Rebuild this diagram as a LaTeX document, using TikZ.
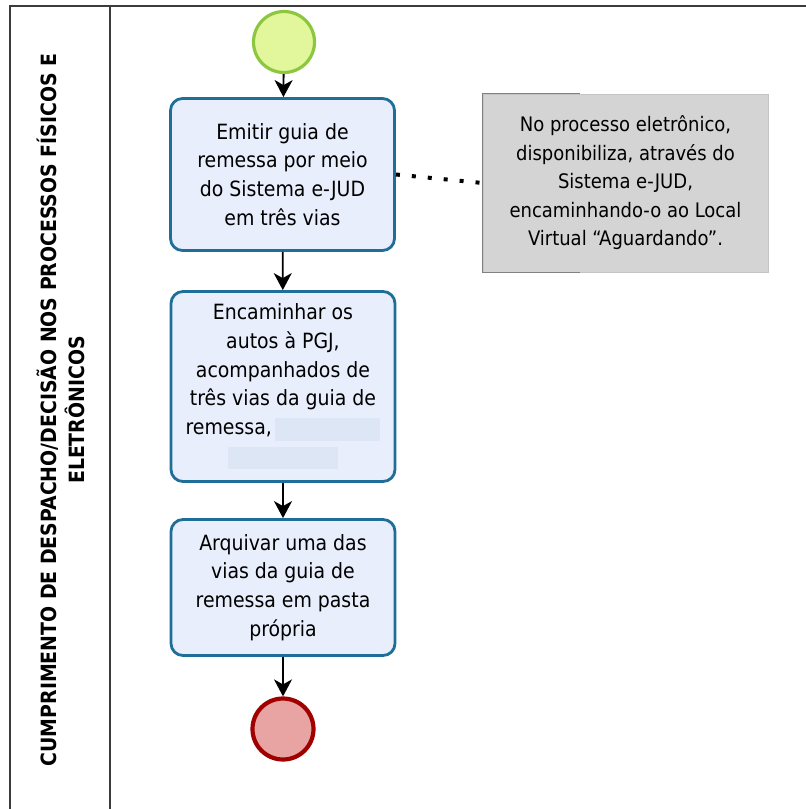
\documentclass[tikz,border=0pt]{standalone}
\usepackage{fontspec}
\setmainfont{DejaVu Sans Condensed}
\usetikzlibrary{arrows.meta}

\definecolor{frameline}{RGB}{60,60,60}
\definecolor{taskline}{RGB}{30,110,152}
\definecolor{taskfill}{RGB}{232,238,252}
\definecolor{startline}{RGB}{141,198,63}
\definecolor{startfill}{RGB}{226,247,156}
\definecolor{endline}{RGB}{160,0,0}
\definecolor{endfill}{RGB}{232,163,163}
\definecolor{notefill}{RGB}{212,212,212}
\definecolor{noteedge}{RGB}{196,196,196}
\definecolor{bracketline}{RGB}{128,128,128}
\definecolor{redact}{RGB}{220,230,244}

\begin{document}
\begin{tikzpicture}[x=1pt,y=-1pt,
  frame/.style={draw=frameline, line width=2.8pt},
  task/.style={draw=taskline, line width=2.8pt, fill=taskfill, rounded corners=12pt,
    minimum width=224pt, inner sep=0pt, align=center,
    font=\fontsize{21}{28.8}\selectfont},
  startev/.style={circle, draw=startline, line width=3.2pt, fill=startfill, minimum size=61pt, inner sep=0pt},
  endev/.style={circle, draw=endline, line width=4.2pt, fill=endfill, minimum size=61pt, inner sep=0pt},
  annot/.style={draw=noteedge, line width=0.8pt, fill=notefill, minimum width=285pt, minimum height=178pt,
    inner sep=0pt, align=center, font=\fontsize{20}{28.5}\selectfont},
  bracket/.style={draw=bracketline, line width=1.2pt},
  flow/.style={draw=black, line width=1.8pt, -{Stealth[length=17pt,width=18pt,inset=5pt]}},
  assoc/.style={draw=black, line width=4pt, dash pattern=on 4pt off 12pt},
  lanetitle/.style={rotate=90, align=center, inner sep=0pt,
    font=\fontsize{21}{28}\selectfont\bfseries}]

\useasboundingbox (0,0) rectangle (806,809);

% pool frame and lane header
\draw[frame] (806,6) -- (10,6) -- (10,809);
\draw[frame] (110,6) -- (110,809);
\node[lanetitle] (lane) at (61,410)
  {CUMPRIMENTO DE DESPACHO/DECISÃO NOS PROCESSOS FÍSICOS E\\ELETRÔNICOS};

% events
\node[startev] (start) at (284,42) {};
\node[endev] (stop) at (283,729) {};

% tasks
\node[task, minimum height=152pt] (emit) at (282.5,174.5)
  {Emitir guia de\\remessa por meio\\do Sistema e-JUD\\em três vias};
\node[task, minimum height=190pt] (send) at (283,386.5)
  {Encaminhar os\\autos à PGJ,\\acompanhados de\\três vias da guia de\\
   remessa,\,{\color{redact}\rule[-6pt]{105pt}{23pt}}\\
   {\color{redact}\rule[-6pt]{110pt}{22pt}}};
\node[task, minimum height=136pt] (file) at (283,587.5)
  {Arquivar uma das\\vias da guia de\\remessa em pasta\\própria};

% text annotation
\node[annot] (note) at (625.5,183)
  {No processo eletrônico,\\disponibiliza, através do\\Sistema e-JUD,\\encaminhando-o ao Local\\Virtual “Aguardando”.};
\draw[bracket] ([xshift=97pt]note.north west) -- (note.north west)
  -- (note.south west) -- ([xshift=97pt]note.south west);

% sequence flows
\draw[flow] (start) -- (emit);
\draw[flow] (emit) -- (send);
\draw[flow] (send) -- (file);
\draw[flow] (file) -- (stop);

% association
\draw[assoc] (emit.east) -- (note.west);
\end{tikzpicture}
\end{document}
